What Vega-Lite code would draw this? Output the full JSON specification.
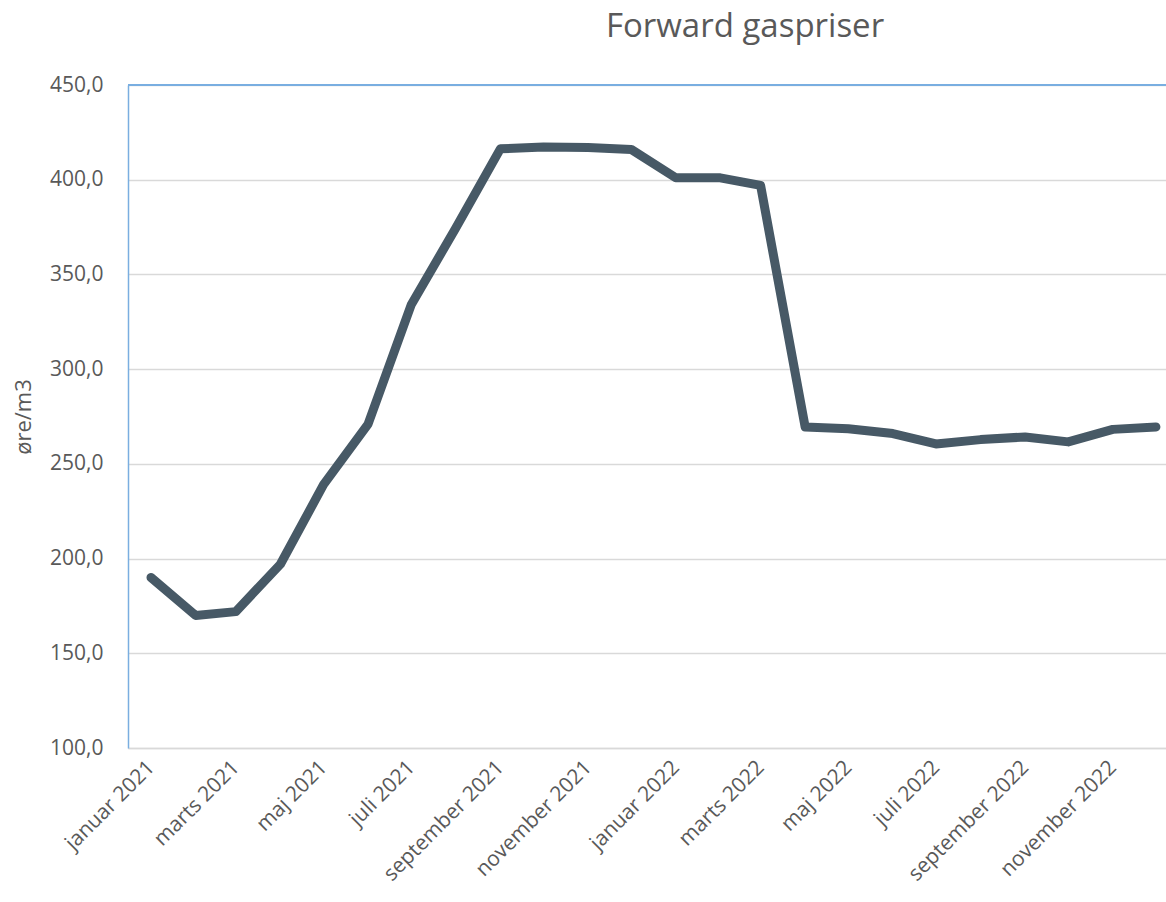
{
  "$schema": "https://vega.github.io/schema/vega-lite/v6.json",
  "autosize": {"type": "none"},
  "padding": {"left": 128, "top": 85, "right": 0, "bottom": 154},
  "width": 1038,
  "height": 663,
  "background": "white",
  "title": {
    "text": "Forward gaspriser",
    "font": "Open Sans",
    "fontSize": 33,
    "fontWeight": "normal",
    "color": "#595959",
    "anchor": "middle",
    "frame": "group",
    "dx": 98,
    "offset": 30
  },
  "data": {
    "values": [
      {"måned": "2021-01-01", "pris": 190},
      {"måned": "2021-02-01", "pris": 170},
      {"måned": "2021-03-01", "pris": 172},
      {"måned": "2021-04-01", "pris": 197},
      {"måned": "2021-05-01", "pris": 239},
      {"måned": "2021-06-01", "pris": 271},
      {"måned": "2021-07-01", "pris": 334},
      {"måned": "2021-08-01", "pris": 374.5},
      {"måned": "2021-09-01", "pris": 416.3},
      {"måned": "2021-10-01", "pris": 417.3},
      {"måned": "2021-11-01", "pris": 417},
      {"måned": "2021-12-01", "pris": 416},
      {"måned": "2022-01-01", "pris": 401},
      {"måned": "2022-02-01", "pris": 401},
      {"måned": "2022-03-01", "pris": 397},
      {"måned": "2022-04-01", "pris": 269.5},
      {"måned": "2022-05-01", "pris": 268.5},
      {"måned": "2022-06-01", "pris": 266},
      {"måned": "2022-07-01", "pris": 260.5},
      {"måned": "2022-08-01", "pris": 262.8},
      {"måned": "2022-09-01", "pris": 264.2},
      {"måned": "2022-10-01", "pris": 261.6},
      {"måned": "2022-11-01", "pris": 268.2},
      {"måned": "2022-12-01", "pris": 269.5}
    ]
  },
  "layer": [
    {
      "mark": {"type": "rule", "color": "#7aaee0", "strokeWidth": 1.5},
      "encoding": {"y": {"datum": 450}}
    },
    {
      "mark": {
        "type": "line",
        "color": "#475966",
        "strokeWidth": 9,
        "strokeCap": "round",
        "strokeJoin": "round",
        "clip": true
      },
      "encoding": {
        "x": {
          "field": "måned",
          "type": "temporal",
          "scale": {
            "type": "utc",
            "domain": [
              {"year": 2020, "month": 12, "date": 16, "utc": true},
              {"year": 2022, "month": 12, "date": 8, "utc": true}
            ]
          },
          "axis": {
            "title": null,
            "values": [
              {"year": 2021, "month": 1, "date": 1, "utc": true},
              {"year": 2021, "month": 3, "date": 1, "utc": true},
              {"year": 2021, "month": 5, "date": 1, "utc": true},
              {"year": 2021, "month": 7, "date": 1, "utc": true},
              {"year": 2021, "month": 9, "date": 1, "utc": true},
              {"year": 2021, "month": 11, "date": 1, "utc": true},
              {"year": 2022, "month": 1, "date": 1, "utc": true},
              {"year": 2022, "month": 3, "date": 1, "utc": true},
              {"year": 2022, "month": 5, "date": 1, "utc": true},
              {"year": 2022, "month": 7, "date": 1, "utc": true},
              {"year": 2022, "month": 9, "date": 1, "utc": true},
              {"year": 2022, "month": 11, "date": 1, "utc": true}
            ],
            "labelExpr": "['januar','februar','marts','april','maj','juni','juli','august','september','oktober','november','december'][utcmonth(datum.value)] + ' ' + utcyear(datum.value)",
            "labelAngle": -45,
            "labelAlign": "right",
            "labelBaseline": "middle",
            "labelFont": "Open Sans",
            "labelFontSize": 21,
            "labelColor": "#595959",
            "labelPadding": 16,
            "ticks": false,
            "grid": false,
            "domainColor": "#d9d9d9",
            "domainWidth": 1.5,
            "labelOverlap": false,
            "labelBound": false,
            "labelFlush": false
          }
        },
        "y": {
          "field": "pris",
          "type": "quantitative",
          "scale": {"domain": [100, 450], "nice": false, "zero": false},
          "axis": {
            "title": "øre/m3",
            "titleFont": "Open Sans",
            "titleFontSize": 22,
            "titleFontWeight": "normal",
            "titleColor": "#595959",
            "titlePadding": 14,
            "values": [100, 150, 200, 250, 300, 350, 400, 450],
            "labelExpr": "replace(format(datum.value, '.1f'), '.', ',')",
            "labelFont": "Open Sans",
            "labelFontSize": 21,
            "labelColor": "#595959",
            "labelPadding": 25,
            "ticks": false,
            "grid": true,
            "gridColor": "#d9d9d9",
            "gridWidth": 1.5,
            "domainColor": "#7aaee0",
            "domainWidth": 1.5
          }
        }
      }
    }
  ],
  "config": {
    "view": {"stroke": null}
  }
}
